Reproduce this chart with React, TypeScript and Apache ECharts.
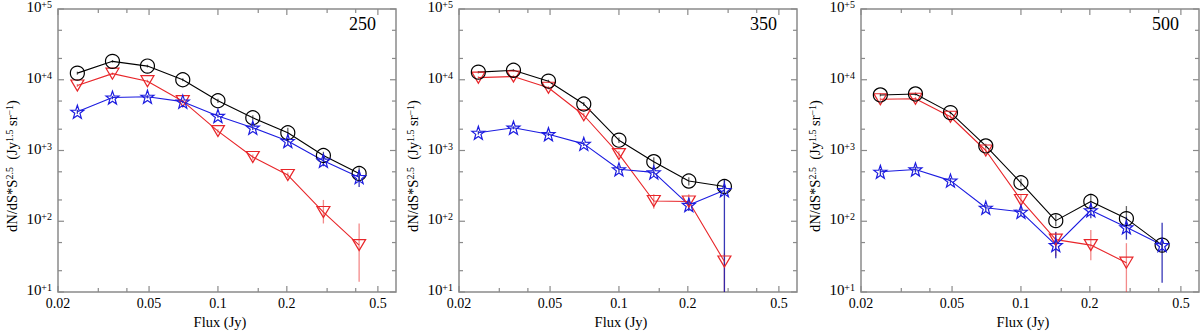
import React, { useEffect, useRef } from "react";
import * as echarts from "echarts";

// ---------- data ----------
const FLUX = [0.0243, 0.0346, 0.0492, 0.0702, 0.1, 0.142, 0.202, 0.289, 0.414];

// 250 micron
const P250_TOTAL = [12400, 18200, 15600, 10000, 5050, 2900, 1780, 850, 473];
const P250_TOTAL_LO = [11800, 17400, 14900, 9500, 4700, 2650, 1600, 740, 380];
const P250_TOTAL_HI = [13000, 19000, 16300, 10500, 5400, 3150, 2100, 960, 580];
const P250_RED = [8300, 12200, 9550, 4980, 1880, 810, 450, 135, 46];
const P250_RED_LO = [7900, 11700, 9100, 4700, 1750, 740, 410, 93, 14];
const P250_RED_HI = [8700, 12700, 10000, 5250, 2000, 880, 490, 200, 93];
const P250_BLUE = [3530, 5600, 5750, 4900, 3080, 2100, 1360, 718, 420];
const P250_BLUE_LO = [3300, 5300, 5450, 4650, 2900, 1950, 1200, 600, 305];
const P250_BLUE_HI = [3750, 5900, 6050, 5150, 3250, 2250, 1520, 830, 525];

// 350 micron
const P350_TOTAL = [12800, 13600, 9550, 4540, 1400, 695, 370, 310];
const P350_TOTAL_LO = [12300, 13100, 9100, 4250, 1280, 600, 320, 250];
const P350_TOTAL_HI = [13300, 14100, 10000, 4850, 1530, 800, 420, 380];
const P350_RED = [10700, 11100, 7700, 3150, 890, 193, 190, 27];
const P350_RED_LO = [10200, 10600, 7300, 2900, 800, 150, 150, 1];
const P350_RED_HI = [11200, 11600, 8100, 3400, 980, 240, 240, 35];
const P350_BLUE = [1780, 2100, 1700, 1240, 542, 490, 170, 275];
const P350_BLUE_LO = [1680, 2000, 1600, 1160, 490, 430, 140, 1];
const P350_BLUE_HI = [1880, 2200, 1800, 1320, 600, 560, 215, 390];

// 500 micron
const P500_TOTAL = [6100, 6300, 3430, 1160, 350, 102, 190, 109, 46];
const P500_TOTAL_LO = [5800, 6000, 3250, 1080, 310, 85, 160, 70, 38];
const P500_TOTAL_HI = [6400, 6600, 3600, 1250, 400, 125, 245, 164, 56];
const P500_RED = [5300, 5400, 3000, 1000, 200, 55, 46, 26];
const P500_RED_LO = [5000, 5100, 2800, 920, 170, 32, 28, 1];
const P500_RED_HI = [5600, 5700, 3200, 1080, 240, 71, 75, 49];
const P500_BLUE = [500, 540, 375, 155, 136, 46, 143, 82, 46];
const P500_BLUE_LO = [450, 490, 340, 140, 120, 30, 110, 55, 13.5];
const P500_BLUE_HI = [550, 590, 410, 170, 155, 70, 180, 115, 95];

const PANEL_LABELS = ["250", "350", "500"];
const X_TICKS_MAJOR = [0.02, 0.05, 0.1, 0.2, 0.5];
const X_TICKS_MINOR = [0.03, 0.04, 0.15, 0.3, 0.4];
const Y_TICKS_MAJOR = [10, 100, 1000, 10000, 100000];
const Y_TICKS_MINOR = [20, 50, 200, 500, 2000, 5000, 20000, 50000];
const X_MIN = 0.02;
const X_MAX = 0.6;
const Y_MIN = 10;
const Y_MAX = 100000;

// ---------- style ----------
const FONT = "'Liberation Serif', 'DejaVu Serif', serif";
const C_BLACK = "#000000";
const C_RED = "#e8262a";
const C_BLUE = "#1c1ce0";
const E_BLACK = "rgba(0,0,0,0.6)";
const E_RED = "rgba(235,60,60,0.6)";
const E_BLUE = "rgba(20,20,170,0.85)";
const FRAME = "#8a8a8a";
const STAR =
  "path://M0,-10L2.35,-3.24L9.51,-3.09L3.8,1.24L5.88,8.09L0,4.2L-5.88,8.09L-3.8,1.24L-9.51,-3.09L-2.35,-3.24Z";

const GRID_LEFTS = [58, 459, 861];
const GRID_W = 338;
const GRID_TOP = 9;
const GRID_H = 283;

const panels = [
  {
    total: [P250_TOTAL, P250_TOTAL_LO, P250_TOTAL_HI],
    red: [P250_RED, P250_RED_LO, P250_RED_HI],
    blue: [P250_BLUE, P250_BLUE_LO, P250_BLUE_HI],
  },
  {
    total: [P350_TOTAL, P350_TOTAL_LO, P350_TOTAL_HI],
    red: [P350_RED, P350_RED_LO, P350_RED_HI],
    blue: [P350_BLUE, P350_BLUE_LO, P350_BLUE_HI],
  },
  {
    total: [P500_TOTAL, P500_TOTAL_LO, P500_TOTAL_HI],
    red: [P500_RED, P500_RED_LO, P500_RED_HI],
    blue: [P500_BLUE, P500_BLUE_LO, P500_BLUE_HI],
  },
];

const tickRich = {
  t: { fontSize: 15, fontFamily: FONT, fill: "#000", lineHeight: 15, padding: [5, 0, 0, 0], verticalAlign: "bottom" },
  s: { fontSize: 10, fontFamily: FONT, fill: "#000", lineHeight: 10, verticalAlign: "top" },
};
const titleRich = {
  t: { fontSize: 14.5, fontFamily: FONT, fill: "#000", lineHeight: 15, padding: [6, 0, 0, 0], verticalAlign: "bottom" },
  s: { fontSize: 10, fontFamily: FONT, fill: "#000", lineHeight: 10, verticalAlign: "top" },
};

function pts(ys: number[]) {
  return ys.map((y, i) => [FLUX[i], y]);
}
function errs(ys: number[], lo: number[], hi: number[]) {
  return ys.map((_, i) => [FLUX[i], lo[i], hi[i]]);
}

function errorSeries(idx: number, data: number[][], color: string) {
  return {
    type: "custom",
    xAxisIndex: idx,
    yAxisIndex: idx,
    silent: true,
    clip: false,
    z: 1,
    encode: { x: 0, y: [1, 2] },
    data,
    renderItem: (_p: any, api: any) => {
      const x = api.value(0);
      const lo = Math.max(api.value(1), Y_MIN);
      const hi = Math.min(api.value(2), Y_MAX);
      const a = api.coord([x, hi]);
      const b = api.coord([x, lo]);
      return {
        type: "line",
        shape: { x1: a[0], y1: a[1], x2: b[0], y2: b[1] },
        style: { stroke: color, lineWidth: 1.3 },
      };
    },
  };
}

function lineSeries(idx: number, ys: number[], color: string, symbol: string, size: any, rotate = 0) {
  return {
    type: "line",
    xAxisIndex: idx,
    yAxisIndex: idx,
    data: pts(ys),
    symbol,
    symbolSize: size,
    symbolRotate: rotate,
    showSymbol: true,
    z: 3,
    lineStyle: { color, width: 1.1 },
    itemStyle: { color: "rgba(0,0,0,0)", borderColor: color, borderWidth: 1.2 },
    emphasis: { disabled: true },
  };
}

function xTickSeries(idx: number) {
  const data = [
    ...X_TICKS_MAJOR.map((v) => [v, Y_MIN, 1]),
    ...X_TICKS_MINOR.map((v) => [v, Y_MIN, 0]),
  ];
  return {
    type: "custom",
    xAxisIndex: idx,
    yAxisIndex: idx,
    silent: true,
    clip: false,
    z: 5,
    encode: { x: 0, y: 1 },
    data,
    renderItem: (_p: any, api: any) => {
      const v = api.value(0);
      const major = api.value(2) === 1;
      const b = api.coord([v, Y_MIN]);
      const t = api.coord([v, Y_MAX]);
      const len = major ? 6 : 4;
      const children: any[] = [
        { type: "line", shape: { x1: b[0], y1: b[1], x2: b[0], y2: b[1] - len }, style: { stroke: FRAME, lineWidth: 1.2 } },
        { type: "line", shape: { x1: t[0], y1: t[1], x2: t[0], y2: t[1] + len }, style: { stroke: FRAME, lineWidth: 1.2 } },
      ];
      if (major) {
        children.push({
          type: "text",
          x: b[0],
          y: b[1] + 4,
          style: { text: String(v), fill: "#000", fontSize: 14, fontFamily: FONT, align: "center", verticalAlign: "top" },
        });
      }
      return { type: "group", children };
    },
  };
}

function yTickSeries(idx: number) {
  const data = [
    ...Y_TICKS_MAJOR.map((v) => [X_MIN, v, 1]),
    ...Y_TICKS_MINOR.map((v) => [X_MIN, v, 0]),
  ];
  return {
    type: "custom",
    xAxisIndex: idx,
    yAxisIndex: idx,
    silent: true,
    clip: false,
    z: 5,
    encode: { x: 0, y: 1 },
    data,
    renderItem: (_p: any, api: any) => {
      const v = api.value(1);
      const major = api.value(2) === 1;
      const l = api.coord([X_MIN, v]);
      const r = api.coord([X_MAX, v]);
      const len = major ? 6 : 4;
      const children: any[] = [
        { type: "line", shape: { x1: l[0], y1: l[1], x2: l[0] + len, y2: l[1] }, style: { stroke: FRAME, lineWidth: 1.2 } },
        { type: "line", shape: { x1: r[0], y1: r[1], x2: r[0] - len, y2: r[1] }, style: { stroke: FRAME, lineWidth: 1.2 } },
      ];
      if (major) {
        const e = Math.round(Math.log10(v));
        children.push({
          type: "text",
          x: l[0] - 6,
          y: l[1] - 2,
          style: {
            text: `{t|10}{s|+${e}}`,
            rich: tickRich,
            fill: "#000",
            fontSize: 15,
            fontFamily: FONT,
            align: "right",
            verticalAlign: "middle",
          },
        });
      }
      return { type: "group", children };
    },
  };
}

export default function App() {
  const ref = useRef<HTMLDivElement>(null);

  useEffect(() => {
    if (!ref.current) return;
    const chart = echarts.init(ref.current, undefined, { renderer: "svg" });

    const grid = GRID_LEFTS.map((left) => ({
      left,
      top: GRID_TOP,
      width: GRID_W,
      height: GRID_H,
      show: true,
      borderColor: FRAME,
      borderWidth: 1.5,
      backgroundColor: "rgba(0,0,0,0)",
    }));
    const xAxis = GRID_LEFTS.map((_, i) => ({
      type: "log",
      logBase: 10,
      gridIndex: i,
      min: X_MIN,
      max: X_MAX,
      axisLine: { show: false },
      axisTick: { show: false },
      axisLabel: { show: false },
      splitLine: { show: false },
    }));
    const yAxis = GRID_LEFTS.map((_, i) => ({
      type: "log",
      logBase: 10,
      gridIndex: i,
      min: Y_MIN,
      max: Y_MAX,
      axisLine: { show: false },
      axisTick: { show: false },
      axisLabel: { show: false },
      splitLine: { show: false },
    }));

    const series: any[] = [];
    panels.forEach((p, i) => {
      series.push(errorSeries(i, errs(p.total[0], p.total[1], p.total[2]), E_BLACK));
      series.push(errorSeries(i, errs(p.red[0], p.red[1], p.red[2]), E_RED));
      series.push(errorSeries(i, errs(p.blue[0], p.blue[1], p.blue[2]), E_BLUE));
      series.push(lineSeries(i, p.red[0], C_RED, "triangle", [13, 11], 180));
      series.push(lineSeries(i, p.total[0], C_BLACK, "circle", 14));
      series.push(lineSeries(i, p.blue[0], C_BLUE, STAR, 13));
      series.push(xTickSeries(i));
      series.push(yTickSeries(i));
    });

    const title = PANEL_LABELS.map((t, i) => ({
      text: t,
      right: 1200 - (GRID_LEFTS[i] + GRID_W - 20),
      top: 15,
      padding: 0,
      textStyle: { fontSize: 18, fontWeight: "normal", fontFamily: FONT, color: "#000" },
    }));

    const graphic: any[] = [];
    GRID_LEFTS.forEach((left) => {
      graphic.push({
        type: "text",
        x: left + GRID_W / 2 - 7,
        y: 322,
        style: { text: "Flux (Jy)", fill: "#000", fontSize: 14.5, fontFamily: FONT, align: "center", verticalAlign: "middle" },
      });
      graphic.push({
        type: "text",
        x: left - 46,
        y: 166,
        rotation: Math.PI / 2,
        style: {
          text: "{t|dN/dS*S}{s|2.5}{t|  (Jy}{s|1.5}{t| sr}{s|−1}{t|)}",
          rich: titleRich,
          fill: "#000",
          fontSize: 14.5,
          fontFamily: FONT,
          align: "center",
          verticalAlign: "middle",
        },
      });
    });

    chart.setOption({
      animation: false,
      backgroundColor: "#ffffff",
      title,
      grid,
      xAxis,
      yAxis,
      series,
      graphic,
    });

    return () => chart.dispose();
  }, []);

  return <div ref={ref} style={{ width: 1200, height: 332, position: "absolute", left: 0, top: 0 }} />;
}
